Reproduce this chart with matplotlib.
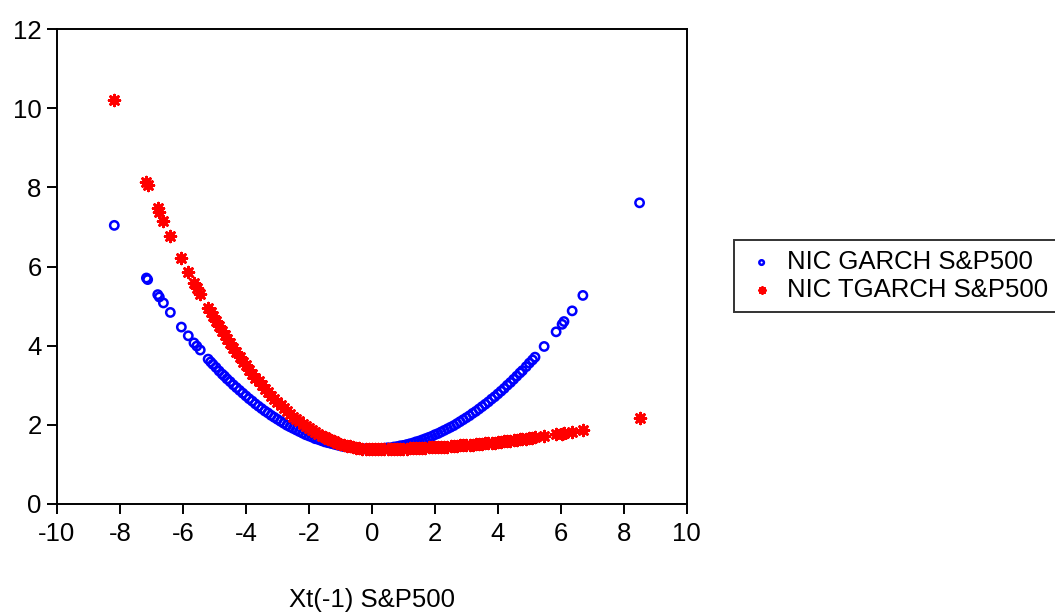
import matplotlib
matplotlib.use("Agg")
import matplotlib.pyplot as plt

plt.rcParams['font.family'] = ['Liberation Sans', 'DejaVu Sans']
plt.rcParams['axes.unicode_minus'] = False

# lagged S&P500 shock Xt(-1), shared by both news impact curves
x_lag = [-8.18, -7.16, -7.12, -6.80, -6.75, -6.62, -6.40, -6.05, -5.83, -5.65,
         -5.56, -5.45, -5.20, -5.12, -5.05, -4.95, -4.85, -4.75, -4.68,
         -4.6, -4.5, -4.4, -4.3, -4.2, -4.1, -4.0, -3.9, -3.8, -3.7,
         -3.6, -3.5, -3.4, -3.3, -3.2, -3.1, -3.0, -2.9, -2.8, -2.7,
         -2.6, -2.5, -2.4, -2.3, -2.2, -2.1, -2.0, -1.9, -1.8, -1.7,
         -1.6, -1.5, -1.4, -1.3, -1.2, -1.1, -1.0, -0.9, -0.8, -0.7,
         -0.6, -0.5, -0.4, -0.3, -0.2, -0.1, 0.0, 0.1, 0.2, 0.3,
         0.4, 0.5, 0.6, 0.7, 0.8, 0.9, 1.0, 1.1, 1.2, 1.3,
         1.4, 1.5, 1.6, 1.7, 1.8, 1.9, 2.0, 2.1, 2.2, 2.3,
         2.4, 2.5, 2.6, 2.7, 2.8, 2.9, 3.0, 3.1, 3.2, 3.3,
         3.4, 3.5, 3.6, 3.7, 3.8, 3.9, 4.0, 4.1, 4.2, 4.3,
         4.4, 4.5, 4.6, 4.70, 4.78, 4.90, 5.00, 5.10, 5.18, 5.47,
         5.85, 6.04, 6.10, 6.36, 6.70, 8.50]

nic_garch = [7.04, 5.71, 5.67, 5.29, 5.23, 5.08, 4.84, 4.47, 4.25, 4.07,
             3.99, 3.89, 3.66, 3.59, 3.53, 3.45, 3.36, 3.28, 3.23,
             3.16, 3.09, 3.01, 2.94, 2.87, 2.80, 2.73, 2.66, 2.60, 2.53,
             2.47, 2.41, 2.35, 2.30, 2.24, 2.19, 2.14, 2.09, 2.04, 1.99,
             1.95, 1.91, 1.87, 1.83, 1.79, 1.75, 1.72, 1.69, 1.65, 1.63,
             1.60, 1.57, 1.55, 1.53, 1.51, 1.49, 1.47, 1.45, 1.44, 1.43,
             1.42, 1.41, 1.40, 1.40, 1.39, 1.39, 1.39, 1.39, 1.40, 1.40,
             1.41, 1.42, 1.42, 1.44, 1.45, 1.47, 1.48, 1.50, 1.52, 1.54,
             1.57, 1.59, 1.62, 1.65, 1.68, 1.71, 1.75, 1.78, 1.82, 1.86,
             1.90, 1.94, 1.98, 2.03, 2.08, 2.13, 2.18, 2.23, 2.29, 2.34,
             2.40, 2.46, 2.52, 2.58, 2.65, 2.71, 2.78, 2.85, 2.92, 3.00,
             3.07, 3.15, 3.23, 3.31, 3.37, 3.47, 3.56, 3.64, 3.71, 3.98,
             4.35, 4.54, 4.61, 4.88, 5.27, 7.61]

nic_tgarch = [10.20, 8.14, 8.07, 7.48, 7.39, 7.16, 6.78, 6.21, 5.87, 5.59,
              5.46, 5.30, 4.95, 4.84, 4.75, 4.62, 4.49, 4.36, 4.27,
              4.18, 4.06, 3.94, 3.83, 3.71, 3.60, 3.50, 3.39, 3.29, 3.19,
              3.10, 3.00, 2.91, 2.82, 2.74, 2.66, 2.58, 2.50, 2.42, 2.35,
              2.28, 2.21, 2.15, 2.09, 2.03, 1.97, 1.92, 1.87, 1.82, 1.77,
              1.73, 1.69, 1.65, 1.61, 1.58, 1.55, 1.52, 1.50, 1.47, 1.46,
              1.44, 1.42, 1.41, 1.40, 1.40, 1.39, 1.39, 1.39, 1.39, 1.39,
              1.39, 1.39, 1.39, 1.40, 1.40, 1.40, 1.40, 1.40, 1.41, 1.41,
              1.41, 1.41, 1.42, 1.42, 1.43, 1.43, 1.43, 1.44, 1.44, 1.45,
              1.45, 1.46, 1.46, 1.47, 1.48, 1.48, 1.49, 1.49, 1.50, 1.51,
              1.52, 1.52, 1.53, 1.54, 1.55, 1.55, 1.56, 1.57, 1.58, 1.59,
              1.60, 1.61, 1.62, 1.63, 1.64, 1.65, 1.66, 1.67, 1.68, 1.71,
              1.76, 1.78, 1.79, 1.83, 1.88, 2.17]

x_ticks = [-10, -8, -6, -4, -2, 0, 2, 4, 6, 8, 10]
y_ticks = [0, 2, 4, 6, 8, 10, 12]

fig = plt.figure(figsize=(10.55, 6.12), dpi=100)
ax = fig.add_axes([0.054, 0.1765, 0.597, 0.776])

ax.scatter(x_lag, nic_garch, s=36, marker='o', facecolors='none',
           edgecolors='#0000ff', linewidths=1.8, label='NIC GARCH S&P500', zorder=2)
ax.scatter(x_lag, nic_tgarch, s=60, marker=(8, 2, 0), color='#ff0000',
           linewidths=2.0, label='NIC TGARCH S&P500', zorder=3)

ax.set_xlim(-10, 10)
ax.set_ylim(0, 12)
ax.set_xticks(x_ticks)
ax.set_yticks(y_ticks)
ax.tick_params(direction='out', length=7, width=1.4, labelsize=18.5, pad=4)
ax.tick_params(axis='x', pad=6)
for sp in ax.spines.values():
    sp.set_linewidth(1.4)

ax.set_xlabel('Xt(-1) S&P500', fontsize=18.5, labelpad=30)

leg = fig.legend(loc='upper left', bbox_to_anchor=(734 / 1055, 1 - 240 / 612),
                 borderaxespad=0, fontsize=18.5, frameon=True, fancybox=False,
                 edgecolor='black', handletextpad=0.3, borderpad=0.4,
                 labelspacing=0.15, markerscale=0.55, handlelength=1.35)
leg.get_frame().set_linewidth(1.4)

fig.savefig('out.png', dpi=100)
